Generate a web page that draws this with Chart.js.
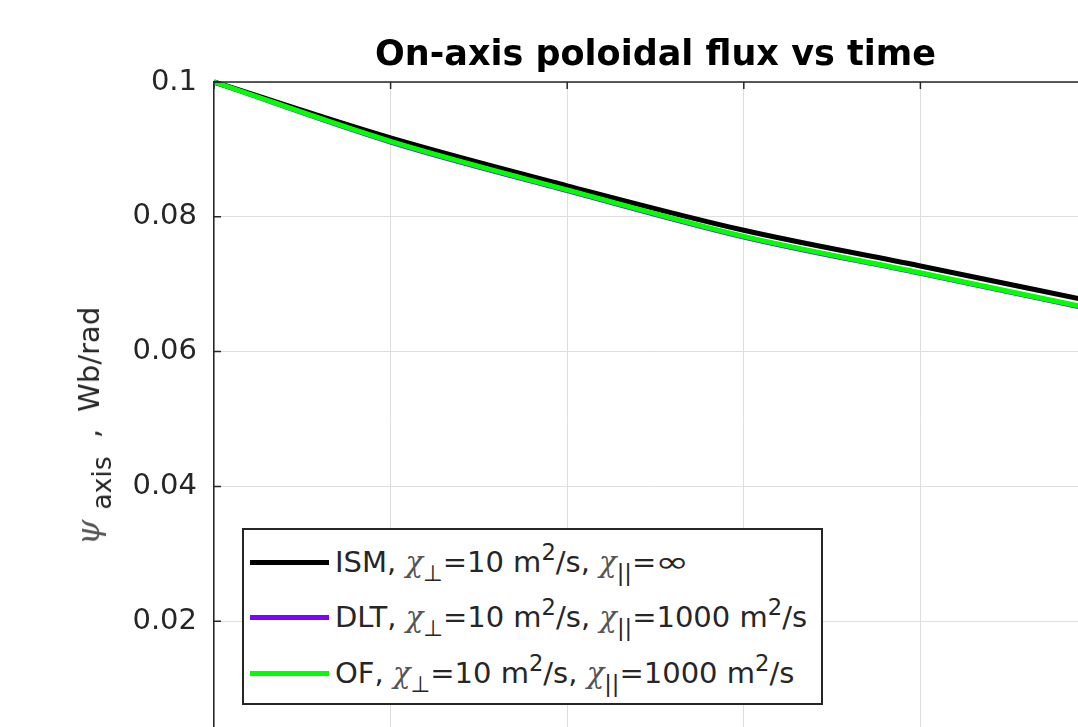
<!DOCTYPE html>
<html>
<head>
<meta charset="utf-8">
<script src="https://cdn.jsdelivr.net/npm/chart.js@4.4.1/dist/chart.umd.min.js"></script>
<style>
  body { margin: 0; overflow: hidden; background: #fff; width: 1078px; height: 727px; }
  #wrap { position: relative; width: 1200px; height: 800px; }
  #fluxChart { position: absolute; left: 0; top: 0; }
  .ylab {
    position: absolute; left: 93px; top: 426px;
    transform: translate(-50%, -50%) rotate(-90deg);
    font: 29px "DejaVu Sans"; color: #262626; white-space: nowrap;
  }
  .ylab .psi { font-size: 1.12em; }
  .ylab sub { font-size: 0.92em; margin-left: 10px; margin-right: 18px; vertical-align: -0.45em; }
  .ylab .cm { margin-right: 8px; }
  .gk { font-family: "DejaVu Serif"; font-style: italic; color: #555; }
  .legend {
    position: absolute; left: 242px; top: 528px; width: 581px; height: 177px;
    box-sizing: border-box; border: 2px solid #262626; background: #fff;
  }
  .row {
    position: absolute; left: 6px; height: 40px; display: flex; align-items: center;
    font: 29px "DejaVu Sans"; color: #262626; white-space: nowrap;
  }
  .swatch { width: 79px; height: 5px; margin-right: 6px; flex: none; }
  .row sub, .row sup { font-size: 0.78em; line-height: 0; }
  .row sub { vertical-align: -0.4em; }
  .row sup { vertical-align: 0.55em; }
  .inf { display: inline-block; transform: scaleX(1.4); margin: 0 4px; }
</style>
</head>
<body>
<div id="wrap">
  <canvas id="fluxChart" width="1200" height="800"></canvas>
  <div class="ylab"><span class="gk psi">ψ</span><sub>axis</sub><span class="cm">,</span> Wb/rad</div>
  <div class="legend" id="legend"></div>
</div>
<script>
// psi on axis (Wb/rad) sampled along the time axis
const timeTicks = [0, 1, 2, 3, 4, 5];
const psiISM = [0.1, 0.0917, 0.0846, 0.0780, 0.0727, 0.0673];
const psiDLT = [0.1, 0.0911, 0.0839, 0.0770, 0.0716, 0.0661];
const psiOF = [0.1, 0.0912, 0.0840, 0.0771, 0.0717, 0.0662];

const seriesNames = ["ISM", "DLT", "OF"];
const seriesColors = ["#000000", "#7f00ff", "#00ff00"];
const chiPar = ['<span class="inf">∞</span>', "1000 m<sup>2</sup>/s", "1000 m<sup>2</sup>/s"];

const toPoints = (ys) => ys.map((y, i) => ({ x: timeTicks[i], y: y }));

// MATLAB-style box: top/right edges plus ticks pointing inward
const axesBox = {
  id: "axesBox",
  afterDraw(chart) {
    const { ctx, chartArea: a, scales } = chart;
    ctx.save();
    ctx.strokeStyle = "#262626";
    ctx.lineWidth = 1.5;
    ctx.beginPath();
    ctx.moveTo(a.left, a.top);
    ctx.lineTo(a.right, a.top);
    ctx.lineTo(a.right, a.bottom);
    ctx.stroke();
    ctx.beginPath();
    scales.y.ticks.forEach((t) => {
      const py = scales.y.getPixelForValue(t.value);
      ctx.moveTo(a.left, py);
      ctx.lineTo(a.left + 7, py);
    });
    scales.x.ticks.forEach((t) => {
      const px = scales.x.getPixelForValue(t.value);
      ctx.moveTo(px, a.top);
      ctx.lineTo(px, a.top + 7);
      ctx.moveTo(px, a.bottom);
      ctx.lineTo(px, a.bottom - 7);
    });
    ctx.stroke();
    ctx.restore();
  },
};

new Chart(document.getElementById("fluxChart"), {
  type: "line",
  data: {
    datasets: [
      { label: "ISM", data: toPoints(psiISM), borderColor: seriesColors[0], order: 2 },
      { label: "DLT", data: toPoints(psiDLT), borderColor: seriesColors[1], order: 1 },
      { label: "OF", data: toPoints(psiOF), borderColor: seriesColors[2], order: 0 },
    ],
  },
  options: {
    responsive: false,
    animation: false,
    layout: { padding: { left: 0, right: 103, top: 0, bottom: 0 } },
    elements: {
      line: { borderWidth: 5, cubicInterpolationMode: "monotone", fill: false },
      point: { radius: 0 },
    },
    datasets: { line: { clip: false } },
    plugins: {
      legend: { display: false },
      tooltip: { enabled: false },
      title: {
        display: true,
        text: "On-axis poloidal flux vs time",
        fullSize: false,
        color: "#000",
        font: { family: "DejaVu Sans", size: 35, weight: "bold", lineHeight: 40 / 35 },
        padding: { top: 36, bottom: 6 },
      },
    },
    scales: {
      x: {
        type: "linear",
        min: 0,
        max: 5,
        afterFit: (s) => { s.height = 44; },
        grid: { color: "#dedede", drawTicks: false },
        border: { color: "#262626", width: 1.5 },
        ticks: { stepSize: 1, color: "#262626", font: { family: "DejaVu Sans", size: 29 }, padding: 10 },
      },
      y: {
        min: 0,
        max: 0.1,
        afterFit: (s) => { s.width = 214; },
        grid: { color: "#dedede", drawTicks: false },
        border: { color: "#262626", width: 1.5 },
        ticks: {
          stepSize: 0.02,
          color: "#262626",
          padding: 17,
          font: { family: "DejaVu Sans", size: 29 },
          callback: (v) => (v === 0 ? "0" : String(+v.toFixed(2))),
        },
      },
    },
  },
  plugins: [axesBox],
});

// legend rows with TeX-like sub/superscripts
const legendEl = document.getElementById("legend");
const rowCenters = [32, 87, 143];
seriesNames.forEach((name, i) => {
  const row = document.createElement("div");
  row.className = "row";
  row.style.top = rowCenters[i] - 20 + "px";
  row.innerHTML =
    `<span class="swatch" style="background:${seriesColors[i]}"></span>` +
    `<span>${name}, <span class="gk">χ</span><sub>⊥</sub>=10 m<sup>2</sup>/s, ` +
    `<span class="gk">χ</span><sub>||</sub>=${chiPar[i]}</span>`;
  legendEl.appendChild(row);
});
</script>
</body>
</html>
